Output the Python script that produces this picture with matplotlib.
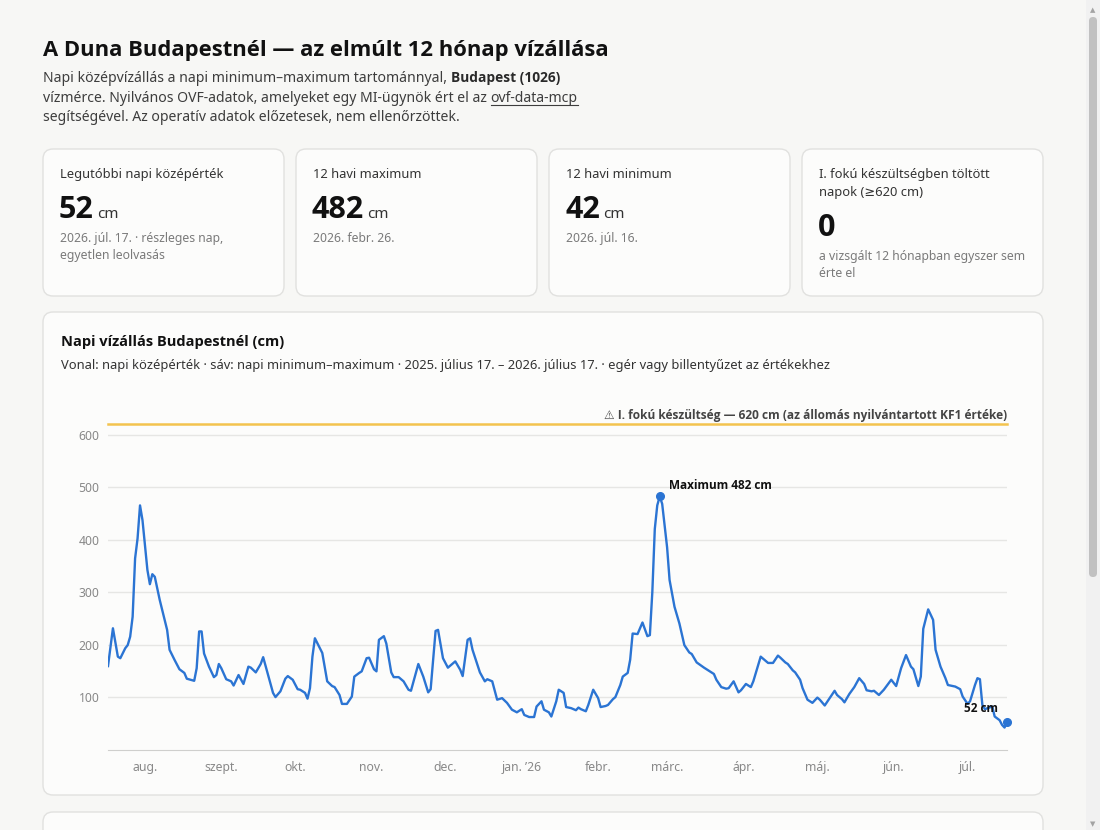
import matplotlib
matplotlib.use("Agg")
import matplotlib.pyplot as plt
from matplotlib.patches import FancyBboxPatch, Rectangle
from matplotlib.transforms import Affine2D
import pandas as pd

# --- data ---
START = "2025-07-17"
days = [0, 2, 4, 5, 7, 8, 9, 10, 11, 12, 13, 14, 16, 17, 18, 19, 21, 24, 25, 27,
        29, 31, 32, 35, 36, 37, 38, 39, 41, 43, 44, 45, 46, 48, 50, 51, 53, 55, 57, 58,
        60, 62, 63, 65, 67, 68, 70, 72, 73, 75, 77, 78, 80, 81, 82, 83, 84, 87, 89, 91,
        92, 94, 95, 97, 99, 100, 102, 103, 105, 106, 108, 109, 110, 112, 113, 115, 116, 118, 120, 122,
        123, 126, 128, 130, 131, 133, 134, 136, 138, 139, 141, 143, 144, 146, 147, 148, 151, 153, 154, 156,
        158, 160, 162, 164, 166, 168, 169, 171, 173, 174, 176, 177, 179, 180, 182, 183, 185, 186, 188, 190,
        191, 192, 194, 195, 197, 199, 200, 202, 203, 205, 206, 208, 209, 211, 212, 213, 215, 217, 219, 220,
        221, 222, 223, 224, 225, 227, 228, 230, 232, 234, 236, 237, 239, 242, 244, 246, 247, 249, 251, 252,
        254, 256, 257, 259, 261, 262, 265, 266, 268, 270, 272, 273, 275, 276, 278, 279, 281, 282, 284, 286,
        288, 289, 291, 293, 295, 296, 298, 299, 301, 303, 305, 307, 308, 310, 311, 313, 315, 318, 320, 322,
        324, 326, 327, 329, 330, 331, 333, 335, 336, 338, 340, 341, 344, 346, 347, 349, 350, 352, 353, 354,
        355, 356, 359, 360, 362, 363, 364, 365]
level = [159, 231, 177, 174, 193, 199, 215, 253, 364, 402, 465, 437, 342, 315, 334, 329, 285, 228, 190, 171,
         153, 146, 135, 131, 155, 225, 225, 183, 158, 138, 142, 163, 155, 134, 130, 122, 142, 125, 158, 156,
         147, 163, 176, 142, 108, 100, 111, 135, 140, 133, 115, 114, 108, 97, 117, 177, 212, 184, 130, 121,
         119, 104, 87, 87, 101, 139, 146, 149, 174, 175, 153, 149, 209, 216, 202, 147, 138, 138, 130, 114,
         112, 163, 139, 109, 115, 226, 228, 174, 156, 160, 168, 152, 140, 209, 212, 190, 147, 130, 134, 130,
         95, 98, 89, 76, 71, 77, 66, 62, 62, 82, 92, 76, 71, 63, 92, 114, 108, 81, 79, 75,
         80, 77, 73, 85, 114, 98, 81, 83, 85, 96, 100, 123, 139, 146, 171, 221, 220, 242, 216, 218,
         300, 420, 465, 482, 468, 385, 323, 272, 240, 199, 185, 182, 166, 156, 150, 144, 133, 119, 116, 117,
         130, 109, 113, 125, 119, 130, 177, 173, 165, 165, 179, 175, 166, 163, 151, 147, 133, 117, 95, 89,
         99, 95, 84, 98, 112, 104, 96, 90, 106, 119, 136, 125, 113, 111, 112, 104, 114, 133, 121, 155,
         180, 158, 153, 121, 139, 230, 267, 247, 190, 158, 136, 123, 120, 115, 101, 87, 92, 123, 136, 134,
         85, 77, 82, 63, 56, 47, 42, 52]
month_ticks = ["2025-08-01", "2025-09-01", "2025-10-01", "2025-11-01", "2025-12-01", "2026-01-01",
               "2026-02-01", "2026-03-01", "2026-04-01", "2026-05-01", "2026-06-01", "2026-07-01"]
month_labels = ["aug.", "szept.", "okt.", "nov.", "dec.", "jan. \u201926",
                "febr.", "márc.", "ápr.", "máj.", "jún.", "júl."]
threshold = 620
max_day, max_level = 224, 482
last_day, last_level = 365, 52

card_labels = [["Legutóbbi napi középérték"], ["12 havi maximum"], ["12 havi minimum"],
               ["I. fokú készültségben töltött", "napok (≥620 cm)"]]
card_values = ["52", "482", "42", "0"]
card_units = ["cm", "cm", "cm", ""]
card_notes = [["2026. júl. 17. · részleges nap,", "egyetlen leolvasás"], ["2026. febr. 26."],
              ["2026. júl. 16."], ["a vizsgált 12 hónapban egyszer sem", "érte el"]]

# --- style ---
BG = "#f7f7f5"
CARD = "#fcfcfb"
BORDER = "#e1e1df"
BLUE = "#2b74d3"
GOLD = "#f3c34f"
FONT = ["Noto Sans", "DejaVu Sans"]
BOLD = ["Open Sans", "DejaVu Sans"]
W, H = 1100, 830

fig = plt.figure(figsize=(11, 8.3), dpi=100, facecolor=BG)
T = Affine2D().scale(1 / W, -1 / H).translate(0, 1) + fig.transFigure
renderer = fig.canvas.get_renderer()


def txt(x, y, s, size, color, weight="normal", ha="left", **kw):
    fam = BOLD if weight == "bold" else FONT
    return fig.text(x, y, s, transform=T, fontsize=size, color=color, fontweight=weight,
                    ha=ha, va="baseline", family=fam, zorder=3, **kw)


def right_end(t):
    return t.get_window_extent(renderer).x1


def card(x0, y0, x1, y1):
    p = FancyBboxPatch((x0, y0), x1 - x0, y1 - y0, boxstyle="round,pad=0,rounding_size=10",
                       transform=T, facecolor=CARD, edgecolor=BORDER, lw=1, zorder=0.5)
    fig.add_artist(p)


# header
txt(43, 56, "A Duna Budapestnél — az elmúlt 12 hónap vízállása", 15.8, "#111111", "bold")
t = txt(43, 82, "Napi középvízállás a napi minimum–maximum tartománnyal, ", 10.1, "#3d3d3d")
txt(right_end(t), 82, "Budapest (1026)", 9.9, "#2a2a2a", "bold")
t = txt(43, 102, "vízmérce. Nyilvános OVF-adatok, amelyeket egy MI-ügynök ért el az ", 10.1, "#3d3d3d")
x0 = right_end(t)
t2 = txt(x0, 102, "ovf-data-mcp", 10.1, "#3d3d3d")
x1 = right_end(t2)
fig.add_artist(plt.Line2D([x0, x1], [105, 105], transform=T, color="#3d3d3d", lw=0.8, zorder=3))
txt(43, 121, "segítségével. Az operatív adatok előzetesek, nem ellenőrzöttek.", 10.1, "#3d3d3d")

# stat cards
card_x = [43, 296, 549, 802]
for i, cx in enumerate(card_x):
    card(cx, 149, cx + 241, 296)
    for j, line in enumerate(card_labels[i]):
        txt(cx + 17, 178 + 18 * j, line, 9.3, "#333333")
    vy = 218 + 18 * (len(card_labels[i]) - 1)
    v = txt(cx + 16, vy, card_values[i], 22, "#111111", "bold")
    if card_units[i]:
        txt(right_end(v) + 3, vy, card_units[i], 11, "#333333")
    for j, line in enumerate(card_notes[i]):
        txt(cx + 17, vy + 24 + 17 * j, line, 8.8, "#7a7a7a")

# chart card
card(43, 312, 1043, 795)
txt(61, 346, "Napi vízállás Budapestnél (cm)", 10.5, "#111111", "bold")
txt(61, 369, "Vonal: napi középérték · sáv: napi minimum–maximum · 2025. július 17. – 2026. július 17. · "
    "egér vagy billentyűzet az értékekhez", 9.3, "#333333")

# next card peeking at the bottom
card(43, 812, 1043, 860)

# scrollbar
fig.add_artist(Rectangle((1086, 0), 14, H, transform=T, facecolor="#f1f1f1", edgecolor="none", zorder=0.5))
fig.add_artist(FancyBboxPatch((1089, 17), 8, 560, boxstyle="round,pad=0,rounding_size=4", transform=T,
                              facecolor="#c1c1c1", edgecolor="none", zorder=0.6))
txt(1093, 12, "▲", 5, "#a3a3a3", ha="center")
txt(1093, 826, "▼", 5, "#a3a3a3", ha="center")

# --- plot ---
start = pd.Timestamp(START)
x = start + pd.to_timedelta(days, unit="D")
ax = fig.add_axes([108 / W, 1 - 749.6 / H, 899 / W, (749.6 - 424) / H])
ax.set_zorder(1)
ax.set_facecolor("none")
ax.plot(x, level, color=BLUE, lw=1.7, solid_joinstyle="round", zorder=3)
ax.axhline(threshold, color=GOLD, lw=1.8, clip_on=False, zorder=2)

max_x = start + pd.Timedelta(days=max_day)
last_x = start + pd.Timedelta(days=last_day)
ax.plot([max_x], [max_level], "o", color=BLUE, ms=5.5, zorder=4, clip_on=False)
ax.plot([last_x], [last_level], "o", color=BLUE, ms=5.5, zorder=4, clip_on=False)
ax.annotate(f"Maximum {max_level} cm", xy=(max_x, max_level), xytext=(9, 7), textcoords="offset pixels",
            fontsize=8.5, fontweight="bold", color="#111111", va="baseline", family=BOLD)
ax.annotate(f"{last_level} cm", xy=(last_x, last_level), xytext=(-9, 10), textcoords="offset pixels",
            fontsize=8.5, fontweight="bold", color="#111111", va="baseline", ha="right", family=BOLD)
ax.text(1.0, threshold + 3, "⚠ I. fokú készültség — 620 cm (az állomás nyilvántartott KF1 értéke)",
        transform=ax.get_yaxis_transform(), ha="right", va="bottom", fontsize=8.6,
        fontweight="bold", color="#444444", family=BOLD)

ax.set_xlim(start, start + pd.Timedelta(days=365))
ax.set_ylim(0, threshold)
ax.set_yticks([100, 200, 300, 400, 500, 600])
ax.set_xticks(pd.to_datetime(month_ticks))
ax.set_xticklabels(month_labels)
ax.grid(axis="y", color="#e6e6e4", lw=1)
ax.set_axisbelow(True)
for s in ["top", "left", "right"]:
    ax.spines[s].set_visible(False)
ax.spines["bottom"].set_color("#cfcfcd")
ax.tick_params(length=0, labelsize=8.8, labelcolor="#888888")
ax.tick_params(axis="y", pad=6)
ax.tick_params(axis="x", pad=8)
for lab in ax.get_xticklabels() + ax.get_yticklabels():
    lab.set_family(FONT)

fig.savefig("out.png", dpi=100, facecolor=BG)
